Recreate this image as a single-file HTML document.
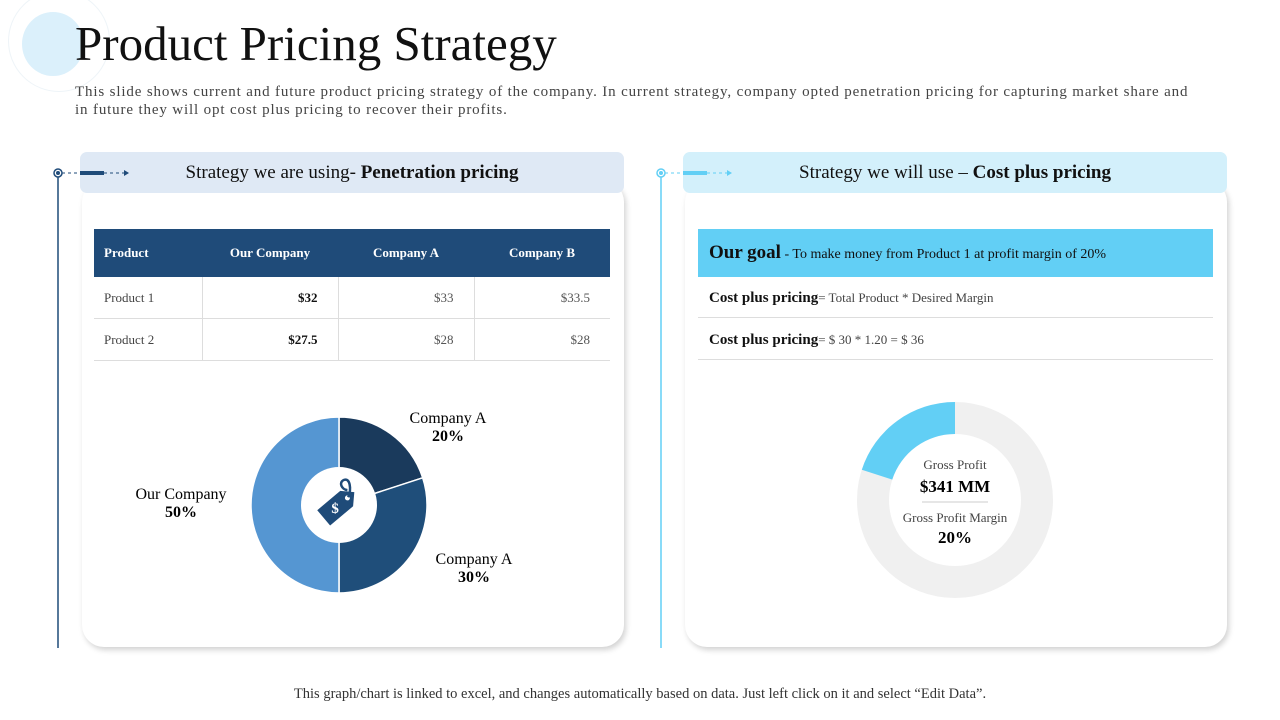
<!DOCTYPE html>
<html><head><meta charset="utf-8"><style>
body{margin:0;width:1280px;height:720px;background:#fff;font-family:"Liberation Serif",serif;position:relative;overflow:hidden;color:#111}
.abs{position:absolute}
.card{position:absolute;background:#fff;border-radius:22px;box-shadow:2px 3px 6px rgba(0,0,0,0.18)}
.hdr{position:absolute;height:41px;border-radius:7px;font-size:19px;line-height:41px;text-align:center}
table{border-collapse:collapse;font-size:13px}
td,th{height:41px;padding:0 10px}
</style></head><body>
<div class="abs" style="left:8px;top:-10px;width:100px;height:100px;border-radius:50%;border:1px solid #eef4f8"></div>
<div class="abs" style="left:22px;top:12px;width:62px;height:64px;border-radius:50%;background:#dbf0fb"></div>
<div class="abs" style="left:75px;top:12px;font-size:49px;line-height:64px">Product Pricing Strategy</div>
<div class="abs" style="left:75px;top:83px;width:1200px;font-size:15px;letter-spacing:0.85px;line-height:18px;color:#444;white-space:nowrap">This slide shows current and future product pricing strategy of the company. In current strategy, company opted penetration pricing for capturing market share and<br>in future they will opt cost plus pricing to recover their profits.</div>

<div class="card" style="left:82px;top:180px;width:542px;height:467px"></div>
<div class="card" style="left:685px;top:180px;width:542px;height:467px"></div>
<div class="hdr" style="left:80px;top:152px;width:544px;background:#dfe9f5">Strategy we are using- <b>Penetration pricing</b></div>
<div class="hdr" style="left:683px;top:152px;width:544px;background:#d3f0fb">Strategy we will use – <b>Cost plus pricing</b></div>

<svg class="abs" style="left:0;top:0" width="1280" height="720">
<line x1="58" y1="173" x2="58" y2="648" stroke="#1f4b79" stroke-width="1.5"/>
<circle cx="58" cy="173" r="4" fill="#fff" stroke="#1f4b79" stroke-width="1.5"/><circle cx="58" cy="173" r="2" fill="#1f4b79"/>
<line x1="62" y1="173" x2="126" y2="173" stroke="#1f4b79" stroke-dasharray="3,3"/>
<path d="M124,170 L129,173 L124,176Z" fill="#1f4b79"/>
<line x1="80" y1="173" x2="104" y2="173" stroke="#1f4b79" stroke-width="4"/>
<line x1="661" y1="173" x2="661" y2="648" stroke="#62cff5" stroke-width="1.5"/>
<circle cx="661" cy="173" r="4" fill="#fff" stroke="#62cff5" stroke-width="1.5"/><circle cx="661" cy="173" r="2" fill="#62cff5"/>
<line x1="665" y1="173" x2="729" y2="173" stroke="#62cff5" stroke-dasharray="3,3"/>
<path d="M727,170 L732,173 L727,176Z" fill="#62cff5"/>
<line x1="683" y1="173" x2="707" y2="173" stroke="#62cff5" stroke-width="4"/>
</svg>

<table class="abs" style="left:94px;top:229px;width:516px">
<tr style="background:#1f4b79;color:#fff;height:48px"><th style="text-align:left;width:88px;height:48px">Product</th><th style="width:116px">Our Company</th><th style="width:116px">Company A</th><th>Company B</th></tr>
<tr style="border-bottom:1px solid #ddd"><td style="color:#444">Product 1</td><td style="text-align:right;font-weight:bold;border-left:1px solid #ddd;padding-right:20px">$32</td><td style="text-align:right;color:#555;border-left:1px solid #ddd;padding-right:20px">$33</td><td style="text-align:right;color:#555;border-left:1px solid #ddd;padding-right:20px">$33.5</td></tr>
<tr style="border-bottom:1px solid #ddd"><td style="color:#444">Product 2</td><td style="text-align:right;font-weight:bold;border-left:1px solid #ddd;padding-right:20px">$27.5</td><td style="text-align:right;color:#555;border-left:1px solid #ddd;padding-right:20px">$28</td><td style="text-align:right;color:#555;border-left:1px solid #ddd;padding-right:20px">$28</td></tr>
</table>

<div class="abs" style="left:698px;top:229px;width:515px;height:48px;background:#62cff5;line-height:48px;font-size:14px;padding-left:11px;box-sizing:border-box"><b style="font-size:19px">Our goal</b> - To make money from Product 1 at profit margin of 20%</div>
<div class="abs" style="left:698px;top:278px;width:515px;height:40px;border-bottom:1px solid #ddd;line-height:40px;font-size:13px;padding-left:11px;box-sizing:border-box;color:#444"><b style="font-size:15px;color:#111">Cost plus pricing</b>= Total Product * Desired Margin</div>
<div class="abs" style="left:698px;top:319px;width:515px;height:41px;border-bottom:1px solid #ddd;line-height:41px;font-size:13px;padding-left:11px;box-sizing:border-box;color:#444"><b style="font-size:15px;color:#111">Cost plus pricing</b>= $ 30 * 1.20 = $ 36</div>

<svg id="pie" class="abs" style="left:0;top:0" width="1280" height="720"></svg>

<div class="abs" style="left:0;width:1280px;top:686px;text-align:center;font-size:14.5px;color:#333">This graph/chart is linked to excel, and changes automatically based on data. Just left click on it and select “Edit Data”.</div>

<script>
const pieLabels=["Company A","Company A","Our Company"];
const pieValues=[20,30,50];
const pieColors=["#1a3a5c","#1f4e7a","#5596d2"];
const donutValues=[20,80];
const grossProfit="$341 MM";
const NS="http://www.w3.org/2000/svg";
const svg=document.getElementById('pie');
function mk(t,a){const e=document.createElementNS(NS,t);for(const k in a)e.setAttribute(k,a[k]);svg.appendChild(e);return e;}
function pt(cx,cy,r,a){return [cx+r*Math.sin(a),cy-r*Math.cos(a)];}
function arc(cx,cy,R,r,a0,a1){const L=Math.abs(a1-a0)>Math.PI?1:0;const sw=a1>a0?1:0;const p1=pt(cx,cy,R,a0),p2=pt(cx,cy,R,a1),p3=pt(cx,cy,r,a1),p4=pt(cx,cy,r,a0);
return `M${p1}A${R},${R} 0 ${L} ${sw} ${p2}L${p3}A${r},${r} 0 ${L} ${1-sw} ${p4}Z`;}
const total=pieValues.reduce((a,b)=>a+b,0);
let a=0;const cx=339,cy=505,R=88;
const labelPos=[[448,423],[474,564],[181,499]];
pieValues.forEach((v,i)=>{const a1=a+v/total*2*Math.PI;
const p=mk('path',{d:arc(cx,cy,R,0.01,a,a1),fill:pieColors[i],stroke:'#fff','stroke-width':1.5});


const t=mk('text',{x:labelPos[i][0],y:labelPos[i][1],'text-anchor':'middle','font-size':16});


t.innerHTML=`<tspan x="${labelPos[i][0]}">${pieLabels[i]}</tspan><tspan x="${labelPos[i][0]}" dy="18" font-weight="bold">${v}%</tspan>`;
a=a1;});
const hole=mk('circle',{cx:cx,cy:cy,r:38,fill:'#fff'});


const tag=mk('g',{transform:`translate(${cx},${cy}) rotate(-40)`});


tag.innerHTML='<path d="M-20,-10 L10,-10 L20,0 L10,10 L-20,10 Z" fill="#1f4b79"/><circle cx="11" cy="0" r="2.5" fill="#fff"/><text x="-5" y="5" font-size="15" font-weight="bold" fill="#fff" text-anchor="middle" transform="rotate(40 -5 0)">$</text><path d="M12,0 C20,-4 26,-14 20,-16 C14,-18 12,-10 16,-6" fill="none" stroke="#1f4b79" stroke-width="2.5"/>';
const dx=955,dy=500,DR=98,dr=66;
const dt=donutValues[0]+donutValues[1];
const bg=mk('circle',{cx:dx,cy:dy,r:(DR+dr)/2,fill:'none',stroke:'#f0f0f0','stroke-width':DR-dr});


const seg=mk('path',{d:arc(dx,dy,DR,dr,0,-donutValues[0]/dt*2*Math.PI),fill:'#62cff5'});


const g=mk('g',{});


g.innerHTML=`<text x="${dx}" y="469" text-anchor="middle" font-size="13" fill="#444">Gross Profit</text><text x="${dx}" y="492" text-anchor="middle" font-size="17" font-weight="bold">${grossProfit}</text><line x1="${dx-33}" x2="${dx+33}" y1="502" y2="502" stroke="#ccc"/><text x="${dx}" y="522" text-anchor="middle" font-size="13" fill="#444">Gross Profit Margin</text><text x="${dx}" y="543" text-anchor="middle" font-size="17" font-weight="bold">${donutValues[0]}%</text>`;
</script>
</body></html>
